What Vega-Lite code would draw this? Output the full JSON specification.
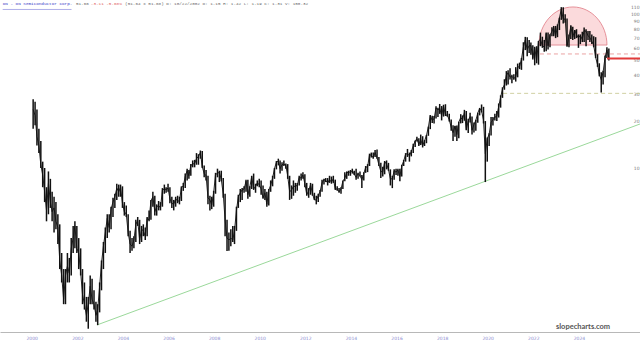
{
"$schema":"https://vega.github.io/schema/vega-lite/v6.json",
"width":640,"height":332,"autosize":"none","padding":{"left":0,"top":0,"right":0,"bottom":11},
"background":"white",
"config":{"view":{"stroke":null}},
"datasets":{"one":[{}],"px":[
{"d":"2000-05-15","l":18,"h":28,"c":24},{"d":"2000-06-15","l":19,"h":27,"c":22},{"d":"2000-07-15","l":14,"h":24,"c":16},{"d":"2000-08-15","l":12.5,"h":18,"c":14},{"d":"2000-09-15","l":10,"h":15,"c":10.5},{"d":"2000-10-15","l":7.5,"h":11,"c":9},{"d":"2000-11-15","l":6,"h":10,"c":7},{"d":"2000-12-15","l":4.5,"h":7.5,"c":5.3},
{"d":"2001-01-15","l":5,"h":9.5,"c":8},{"d":"2001-02-15","l":5.5,"h":8.5,"c":6},{"d":"2001-03-15","l":4.5,"h":7,"c":5.2},{"d":"2001-04-15","l":3.8,"h":6.5,"c":5.5},{"d":"2001-05-15","l":4,"h":6,"c":4.5},{"d":"2001-06-15","l":3.2,"h":5,"c":4.1},{"d":"2001-07-15","l":2.2,"h":4.3,"c":2.5},{"d":"2001-08-15","l":1.8,"h":2.8,"c":2},{"d":"2001-09-15","l":1.3,"h":2.2,"c":1.4},{"d":"2001-10-15","l":1.3,"h":2.2,"c":2},{"d":"2001-11-15","l":1.8,"h":2.8,"c":2.3},{"d":"2001-12-15","l":1.8,"h":2.6,"c":2.07},
{"d":"2002-01-15","l":2,"h":3.5,"c":3},{"d":"2002-02-15","l":2.8,"h":4.2,"c":3.5},{"d":"2002-03-15","l":3,"h":4.5,"c":4.2},{"d":"2002-04-15","l":2.8,"h":4.2,"c":3},{"d":"2002-05-15","l":2.2,"h":3.5,"c":2.8},{"d":"2002-06-15","l":2,"h":3,"c":2.1},{"d":"2002-07-15","l":1.3,"h":2.2,"c":1.5},{"d":"2002-08-15","l":1.2,"h":1.8,"c":1.3},{"d":"2002-09-15","l":1,"h":1.45,"c":1.1},{"d":"2002-10-15","l":0.9,"h":1.45,"c":1.3},{"d":"2002-11-15","l":1.3,"h":2,"c":1.7},{"d":"2002-12-15","l":1.3,"h":1.9,"c":1.4},
{"d":"2003-01-15","l":1.2,"h":1.6,"c":1.3},{"d":"2003-02-15","l":1,"h":1.35,"c":1.1},{"d":"2003-03-15","l":0.95,"h":1.3,"c":1.2},{"d":"2003-04-15","l":1.15,"h":1.8,"c":1.7},{"d":"2003-05-15","l":1.6,"h":2.5,"c":2.4},{"d":"2003-06-15","l":2.2,"h":3.3,"c":3.1},{"d":"2003-07-15","l":2.8,"h":4.1,"c":3.8},{"d":"2003-08-15","l":3.5,"h":5,"c":4.7},{"d":"2003-09-15","l":3.8,"h":5,"c":4.1},{"d":"2003-10-15","l":4,"h":5.6,"c":5.4},{"d":"2003-11-15","l":4.8,"h":6.4,"c":6},{"d":"2003-12-15","l":5.5,"h":6.8,"c":6.5},
{"d":"2004-01-15","l":6.2,"h":7.9,"c":7.4},{"d":"2004-02-15","l":6.5,"h":7.8,"c":7},{"d":"2004-03-15","l":6.5,"h":7.8,"c":7.5},{"d":"2004-04-15","l":5.5,"h":7.6,"c":5.9},{"d":"2004-05-15","l":4.9,"h":6,"c":5.2},{"d":"2004-06-15","l":4.8,"h":5.7,"c":5},{"d":"2004-07-15","l":3.6,"h":5,"c":3.8},{"d":"2004-08-15","l":2.8,"h":3.9,"c":3.2},{"d":"2004-09-15","l":2.9,"h":3.5,"c":3.1},{"d":"2004-10-15","l":3,"h":3.6,"c":3.4},{"d":"2004-11-15","l":3.3,"h":4.6,"c":4.3},{"d":"2004-12-15","l":4.2,"h":4.8,"c":4.55},
{"d":"2005-01-15","l":3.2,"h":4.6,"c":3.4},{"d":"2005-02-15","l":3.3,"h":4.2,"c":4},{"d":"2005-03-15","l":3.6,"h":4.3,"c":3.9},{"d":"2005-04-15","l":3.4,"h":4.1,"c":3.6},{"d":"2005-05-15","l":3.6,"h":4.8,"c":4.7},{"d":"2005-06-15","l":4.5,"h":5.3,"c":4.6},{"d":"2005-07-15","l":4.6,"h":6.2,"c":6.1},{"d":"2005-08-15","l":5.6,"h":7,"c":6.5},{"d":"2005-09-15","l":4.9,"h":6.6,"c":5.2},{"d":"2005-10-15","l":4.9,"h":5.8,"c":5.6},{"d":"2005-11-15","l":5.3,"h":6.1,"c":5.7},{"d":"2005-12-15","l":5.3,"h":6,"c":5.5},
{"d":"2006-01-15","l":5.6,"h":7.4,"c":7.2},{"d":"2006-02-15","l":6.8,"h":7.8,"c":7.3},{"d":"2006-03-15","l":6.9,"h":7.5,"c":7.25},{"d":"2006-04-15","l":7,"h":7.9,"c":7.4},{"d":"2006-05-15","l":5.9,"h":7.5,"c":6.3},{"d":"2006-06-15","l":5.5,"h":6.5,"c":5.9},{"d":"2006-07-15","l":5.3,"h":6.2,"c":5.8},{"d":"2006-08-15","l":5.6,"h":6.5,"c":6.3},{"d":"2006-09-15","l":5.9,"h":6.6,"c":6.1},{"d":"2006-10-15","l":5.8,"h":6.5,"c":6.1},{"d":"2006-11-15","l":6.1,"h":7.6,"c":7.5},{"d":"2006-12-15","l":7.1,"h":8,"c":7.6},
{"d":"2007-01-15","l":7.4,"h":9.2,"c":8.8},{"d":"2007-02-15","l":8.3,"h":9.9,"c":9.6},{"d":"2007-03-15","l":8.5,"h":9.7,"c":8.9},{"d":"2007-04-15","l":8.9,"h":10.6,"c":10.4},{"d":"2007-05-15","l":10.1,"h":11.2,"c":10.6},{"d":"2007-06-15","l":10.1,"h":11.3,"c":10.7},{"d":"2007-07-15","l":10.5,"h":12.5,"c":11.5},{"d":"2007-08-15","l":10.5,"h":12.3,"c":11.9},{"d":"2007-09-15","l":11.5,"h":13,"c":12.6},{"d":"2007-10-15","l":10,"h":12.9,"c":10.2},{"d":"2007-11-15","l":8.7,"h":10.4,"c":9.2},{"d":"2007-12-15","l":8.3,"h":9.7,"c":8.9},
{"d":"2008-01-15","l":5.8,"h":8.9,"c":6.4},{"d":"2008-02-15","l":5.3,"h":6.6,"c":6.2},{"d":"2008-03-15","l":5.4,"h":6.5,"c":5.75},{"d":"2008-04-15","l":5.6,"h":7.1,"c":6.9},{"d":"2008-05-15","l":6.8,"h":9.3,"c":9.1},{"d":"2008-06-15","l":8.7,"h":9.9,"c":9.2},{"d":"2008-07-15","l":8.1,"h":9.6,"c":9.4},{"d":"2008-08-15","l":8.2,"h":9.6,"c":8.4},{"d":"2008-09-15","l":6.4,"h":8.6,"c":6.8},{"d":"2008-10-15","l":3.6,"h":6.8,"c":4.6},{"d":"2008-11-15","l":2.88,"h":4.6,"c":3.5},{"d":"2008-12-15","l":2.9,"h":3.8,"c":3.4},
{"d":"2009-01-15","l":3.1,"h":4,"c":3.5},{"d":"2009-02-15","l":3.3,"h":4.2,"c":3.4},{"d":"2009-03-15","l":3.2,"h":4.2,"c":3.9},{"d":"2009-04-15","l":3.9,"h":5.6,"c":5.3},{"d":"2009-05-15","l":5.5,"h":6.7,"c":6.5},{"d":"2009-06-15","l":6,"h":7.3,"c":6.9},{"d":"2009-07-15","l":6.2,"h":7.4,"c":7.2},{"d":"2009-08-15","l":6.9,"h":7.6,"c":7.3},{"d":"2009-09-15","l":7,"h":8.4,"c":8.2},{"d":"2009-10-15","l":6.3,"h":8.4,"c":6.7},{"d":"2009-11-15","l":6.5,"h":7.6,"c":7.5},{"d":"2009-12-15","l":7.3,"h":8.9,"c":8.8},
{"d":"2010-01-15","l":7.2,"h":9.2,"c":7.3},{"d":"2010-02-15","l":6.9,"h":7.9,"c":7.6},{"d":"2010-03-15","l":7.6,"h":8.3,"c":8},{"d":"2010-04-15","l":7.5,"h":8.5,"c":7.8},{"d":"2010-05-15","l":6.7,"h":8.3,"c":7.3},{"d":"2010-06-15","l":6.3,"h":7.7,"c":6.4},{"d":"2010-07-15","l":6.2,"h":7.3,"c":6.9},{"d":"2010-08-15","l":5.6,"h":7,"c":5.8},{"d":"2010-09-15","l":5.7,"h":7.3,"c":7.2},{"d":"2010-10-15","l":7,"h":8.3,"c":7.7},{"d":"2010-11-15","l":7.6,"h":8.9,"c":8.6},{"d":"2010-12-15","l":8.5,"h":10,"c":9.9},
{"d":"2011-01-15","l":9.8,"h":11.1,"c":10.9},{"d":"2011-02-15","l":10.4,"h":11.5,"c":11.1},{"d":"2011-03-15","l":9.2,"h":11.2,"c":9.9},{"d":"2011-04-15","l":9.6,"h":10.9,"c":10.5},{"d":"2011-05-15","l":10.3,"h":11.2,"c":10.6},{"d":"2011-06-15","l":9.9,"h":10.7,"c":10.4},{"d":"2011-07-15","l":8.5,"h":10.6,"c":8.9},{"d":"2011-08-15","l":6.2,"h":8.9,"c":7},{"d":"2011-09-15","l":6.3,"h":7.7,"c":7.2},{"d":"2011-10-15","l":6.6,"h":8.3,"c":7.6},{"d":"2011-11-15","l":6.9,"h":8,"c":7.6},{"d":"2011-12-15","l":7.1,"h":8,"c":7.7},
{"d":"2012-01-15","l":7.7,"h":8.9,"c":8.7},{"d":"2012-02-15","l":8.3,"h":9.2,"c":8.6},{"d":"2012-03-15","l":8.5,"h":9.4,"c":9},{"d":"2012-04-15","l":7.5,"h":9.1,"c":7.9},{"d":"2012-05-15","l":6.6,"h":8,"c":6.7},{"d":"2012-06-15","l":6.4,"h":7.4,"c":7.1},{"d":"2012-07-15","l":6.7,"h":8,"c":7.8},{"d":"2012-08-15","l":6.6,"h":7.9,"c":6.8},{"d":"2012-09-15","l":6.2,"h":6.9,"c":6.2},{"d":"2012-10-15","l":5.8,"h":6.6,"c":6.2},{"d":"2012-11-15","l":6,"h":6.8,"c":6.6},{"d":"2012-12-15","l":6.5,"h":7.2,"c":7.05},
{"d":"2013-01-15","l":7,"h":8.4,"c":8},{"d":"2013-02-15","l":7.8,"h":8.5,"c":8.4},{"d":"2013-03-15","l":8.1,"h":8.6,"c":8.3},{"d":"2013-04-15","l":7.7,"h":8.6,"c":8},{"d":"2013-05-15","l":8,"h":8.9,"c":8.4},{"d":"2013-06-15","l":7.9,"h":8.8,"c":8.1},{"d":"2013-07-15","l":8,"h":8.9,"c":8.5},{"d":"2013-08-15","l":7.2,"h":8.4,"c":7.3},{"d":"2013-09-15","l":7.1,"h":7.6,"c":7.3},{"d":"2013-10-15","l":6.9,"h":7.4,"c":7},{"d":"2013-11-15","l":6.8,"h":7.5,"c":7.3},{"d":"2013-12-15","l":7.3,"h":8.3,"c":8.2},
{"d":"2014-01-15","l":8.2,"h":9.4,"c":8.6},{"d":"2014-02-15","l":8.5,"h":9.5,"c":9.3},{"d":"2014-03-15","l":8.9,"h":9.6,"c":9.4},{"d":"2014-04-15","l":8.9,"h":9.7,"c":9.4},{"d":"2014-05-15","l":9.2,"h":9.9,"c":9.6},{"d":"2014-06-15","l":9,"h":9.6,"c":9.1},{"d":"2014-07-15","l":8.4,"h":9.9,"c":8.7},{"d":"2014-08-15","l":8.5,"h":9.3,"c":9.2},{"d":"2014-09-15","l":8.8,"h":9.5,"c":8.9},{"d":"2014-10-15","l":7.4,"h":9,"c":8.4},{"d":"2014-11-15","l":8.3,"h":9.4,"c":9.2},{"d":"2014-12-15","l":9.3,"h":10.3,"c":10.1},
{"d":"2015-01-15","l":9.4,"h":10.6,"c":10.2},{"d":"2015-02-15","l":10.3,"h":12.4,"c":12.2},{"d":"2015-03-15","l":11.7,"h":12.6,"c":12.1},{"d":"2015-04-15","l":11.5,"h":12.6,"c":11.7},{"d":"2015-05-15","l":11.8,"h":13.1,"c":12.6},{"d":"2015-06-15","l":11.5,"h":13.2,"c":11.7},{"d":"2015-07-15","l":10.3,"h":11.8,"c":10.5},{"d":"2015-08-15","l":8.6,"h":10.8,"c":9.5},{"d":"2015-09-15","l":8.8,"h":10.2,"c":9.4},{"d":"2015-10-15","l":9.1,"h":11.1,"c":11},{"d":"2015-11-15","l":9.8,"h":11.2,"c":10.6},{"d":"2015-12-15","l":9.6,"h":10.8,"c":9.8},
{"d":"2016-01-15","l":7.7,"h":9.8,"c":8.5},{"d":"2016-02-15","l":7.4,"h":8.9,"c":8.5},{"d":"2016-03-15","l":8.4,"h":9.8,"c":9.6},{"d":"2016-04-15","l":9,"h":9.9,"c":9.4},{"d":"2016-05-15","l":8.9,"h":9.9,"c":9.7},{"d":"2016-06-15","l":8.2,"h":9.9,"c":8.8},{"d":"2016-07-15","l":8.8,"h":10.5,"c":10.3},{"d":"2016-08-15","l":10.3,"h":11.3,"c":11.1},{"d":"2016-09-15","l":11,"h":12.5,"c":12.3},{"d":"2016-10-15","l":11.8,"h":13.3,"c":12.4},{"d":"2016-11-15","l":11,"h":12.6,"c":12},{"d":"2016-12-15","l":11.9,"h":13.1,"c":12.8},
{"d":"2017-01-15","l":12.5,"h":14.4,"c":13.9},{"d":"2017-02-15","l":13.7,"h":15.1,"c":15},{"d":"2017-03-15","l":14.9,"h":16,"c":15.5},{"d":"2017-04-15","l":13.9,"h":15.6,"c":14.2},{"d":"2017-05-15","l":14.1,"h":16.5,"c":15.3},{"d":"2017-06-15","l":13.6,"h":16.1,"c":14},{"d":"2017-07-15","l":13.9,"h":15.2,"c":15},{"d":"2017-08-15","l":14.5,"h":16.4,"c":16.3},{"d":"2017-09-15","l":16.2,"h":18.6,"c":18.5},{"d":"2017-10-15","l":17.9,"h":22.1,"c":21.9},{"d":"2017-11-15","l":19.6,"h":21.9,"c":20.4},{"d":"2017-12-15","l":19.5,"h":21.8,"c":20.9},
{"d":"2018-01-15","l":21,"h":25.2,"c":24.6},{"d":"2018-02-15","l":21.5,"h":24.7,"c":23.9},{"d":"2018-03-15","l":22.5,"h":26.1,"c":24.5},{"d":"2018-04-15","l":20.4,"h":25.3,"c":21.9},{"d":"2018-05-15","l":21.6,"h":25.8,"c":25.3},{"d":"2018-06-15","l":21.8,"h":26,"c":22.2},{"d":"2018-07-15","l":21.6,"h":23.5,"c":22},{"d":"2018-08-15","l":20.1,"h":22.5,"c":20.6},{"d":"2018-09-15","l":17.5,"h":20.7,"c":18.4},{"d":"2018-10-15","l":15,"h":19,"c":17},{"d":"2018-11-15","l":16,"h":18.8,"c":18.7},{"d":"2018-12-15","l":15,"h":18.9,"c":16.5},
{"d":"2019-01-15","l":15.6,"h":20,"c":19.9},{"d":"2019-02-15","l":19.5,"h":22.4,"c":21.3},{"d":"2019-03-15","l":19.6,"h":22,"c":20.6},{"d":"2019-04-15","l":20.3,"h":23.9,"c":23},{"d":"2019-05-15","l":17.6,"h":23.5,"c":17.8},{"d":"2019-06-15","l":16.9,"h":20.9,"c":20.2},{"d":"2019-07-15","l":19.8,"h":22.9,"c":21.6},{"d":"2019-08-15","l":16.5,"h":21.6,"c":17.6},{"d":"2019-09-15","l":17,"h":19.8,"c":19.2},{"d":"2019-10-15","l":17.5,"h":20.6,"c":20.4},{"d":"2019-11-15","l":19.7,"h":22.9,"c":22.8},{"d":"2019-12-15","l":22,"h":24.6,"c":24.4},
{"d":"2020-01-15","l":23,"h":25.9,"c":23.5},{"d":"2020-02-15","l":19.5,"h":25,"c":20.5},{"d":"2020-03-15","l":8.1,"h":20.2,"c":12.4},{"d":"2020-04-15","l":11,"h":15.8,"c":15.5},{"d":"2020-05-15","l":13.9,"h":16.8,"c":16.6},{"d":"2020-06-15","l":16.3,"h":21.5,"c":19.8},{"d":"2020-07-15","l":18.9,"h":21.5,"c":20.6},{"d":"2020-08-15","l":20.4,"h":22.5,"c":21.4},{"d":"2020-09-15","l":20.2,"h":23.5,"c":21.7},{"d":"2020-10-15","l":21.3,"h":26.3,"c":25.1},{"d":"2020-11-15","l":24.7,"h":29.7,"c":28.9},{"d":"2020-12-15","l":28.6,"h":33.5,"c":32.7},
{"d":"2021-01-15","l":32.3,"h":37.8,"c":34.8},{"d":"2021-02-15","l":34.4,"h":42.7,"c":40.1},{"d":"2021-03-15","l":35,"h":43.2,"c":41.6},{"d":"2021-04-15","l":37.6,"h":44.6,"c":39},{"d":"2021-05-15","l":35.6,"h":40.5,"c":39.4},{"d":"2021-06-15","l":37.5,"h":40.8,"c":38.3},{"d":"2021-07-15","l":36.5,"h":45.3,"c":39.1},{"d":"2021-08-15","l":38.9,"h":47.8,"c":45.2},{"d":"2021-09-15","l":44,"h":48.5,"c":45.8},{"d":"2021-10-15","l":43.5,"h":52,"c":51},{"d":"2021-11-15","l":50,"h":65.8,"c":61.4},{"d":"2021-12-15","l":58.5,"h":71.3,"c":67.9},
{"d":"2022-01-15","l":53.3,"h":70.8,"c":59},{"d":"2022-02-15","l":56,"h":68,"c":62.5},{"d":"2022-03-15","l":54.5,"h":65.5,"c":62.6},{"d":"2022-04-15","l":50.8,"h":63,"c":52.1},{"d":"2022-05-15","l":46.6,"h":61.5,"c":60.5},{"d":"2022-06-15","l":48,"h":62,"c":50.3},{"d":"2022-07-15","l":47,"h":67,"c":66.8},{"d":"2022-08-15","l":62,"h":76,"c":68.9},{"d":"2022-09-15","l":60.5,"h":71.5,"c":62.3},{"d":"2022-10-15","l":57,"h":68,"c":61.4},{"d":"2022-11-15","l":57.5,"h":76,"c":75},{"d":"2022-12-15","l":59,"h":76,"c":62.4},
{"d":"2023-01-15","l":61,"h":74.3,"c":73.4},{"d":"2023-02-15","l":72,"h":82.5,"c":77.3},{"d":"2023-03-15","l":72,"h":84,"c":82.3},{"d":"2023-04-15","l":70,"h":84,"c":72},{"d":"2023-05-15","l":71,"h":86,"c":83.6},{"d":"2023-06-15","l":79,"h":95,"c":94.6},{"d":"2023-07-15","l":92,"h":111.3,"c":107.7},{"d":"2023-08-15","l":87,"h":111,"c":93.2},{"d":"2023-09-15","l":88,"h":100,"c":93},{"d":"2023-10-15","l":61.5,"h":94,"c":62.6},{"d":"2023-11-15","l":61,"h":74,"c":71.4},{"d":"2023-12-15","l":69,"h":85,"c":83.5},
{"d":"2024-01-15","l":68,"h":83,"c":71},{"d":"2024-02-15","l":69,"h":79,"c":79},{"d":"2024-03-15","l":70,"h":80,"c":73.6},{"d":"2024-04-15","l":60.5,"h":74,"c":70.2},{"d":"2024-05-15","l":64,"h":74,"c":73},{"d":"2024-06-15","l":66,"h":77,"c":68.6},{"d":"2024-07-15","l":66,"h":82,"c":78.4},{"d":"2024-08-15","l":62,"h":80,"c":77.5},{"d":"2024-09-15","l":68,"h":78,"c":72.6},{"d":"2024-10-15","l":66,"h":78,"c":70.5},{"d":"2024-11-15","l":64,"h":74,"c":66.6},{"d":"2024-12-15","l":61,"h":72,"c":63.1},
{"d":"2025-01-15","l":52,"h":71,"c":52.5},{"d":"2025-02-15","l":45.5,"h":55,"c":47},{"d":"2025-03-15","l":39.5,"h":48,"c":40.7},{"d":"2025-04-15","l":31,"h":42,"c":37.6},{"d":"2025-05-15","l":35,"h":43,"c":42},{"d":"2025-06-15","l":39,"h":54,"c":52.4},{"d":"2025-07-15","l":52,"h":61,"c":58.8},{"d":"2025-08-15","l":50,"h":60,"c":51.66}
]},
"layer":[
{"data":{"name":"one"},"mark":{"type":"point","shape":"M-1,0 A1,1.12 0 0 1 1,0 Z","filled":true,"fill":"#fad3d6","fillOpacity":0.85,"stroke":"#e07a84","strokeWidth":0.8,"size":4624},
 "encoding":{"x":{"datum":{"year":2024,"month":1,"date":18},"type":"temporal"},"y":{"datum":63.1,"type":"quantitative"}}},
{"data":{"name":"one"},"mark":{"type":"rule","stroke":"#e58b8b","strokeWidth":0.8,"strokeDash":[4,3]},
 "encoding":{"x":{"datum":{"year":2022,"month":8,"date":7},"type":"temporal"},"x2":{"datum":{"year":2026,"month":12,"date":27}},"y":{"datum":55.2,"type":"quantitative"}}},
{"data":{"name":"one"},"mark":{"type":"rule","stroke":"#c4c48a","strokeWidth":0.8,"strokeDash":[4,3]},
 "encoding":{"x":{"datum":{"year":2020,"month":12,"date":25},"type":"temporal"},"x2":{"datum":{"year":2026,"month":12,"date":27}},"y":{"datum":30.6,"type":"quantitative"}}},
{"data":{"name":"one"},"mark":{"type":"rule","stroke":"#8fd48f","strokeWidth":0.9},
 "encoding":{"x":{"datum":{"year":2003,"month":3,"date":3},"type":"temporal"},"x2":{"datum":{"year":2026,"month":12,"date":27}},"y":{"datum":0.952,"type":"quantitative"},"y2":{"datum":19.33}}},
{"data":{"name":"px"},"mark":{"type":"rule","stroke":"#111","strokeWidth":1.5},
 "encoding":{
  "x":{"field":"d","type":"temporal","scale":{"domain":[{"year":1998,"month":12,"date":1},{"year":2026,"month":12,"date":27}]},
   "axis":{"title":null,"orient":"bottom","values":[{"year":2000,"month":1,"date":1},{"year":2002,"month":1,"date":1},{"year":2004,"month":1,"date":1},{"year":2006,"month":1,"date":1},{"year":2008,"month":1,"date":1},{"year":2010,"month":1,"date":1},{"year":2012,"month":1,"date":1},{"year":2014,"month":1,"date":1},{"year":2016,"month":1,"date":1},{"year":2018,"month":1,"date":1},{"year":2020,"month":1,"date":1},{"year":2022,"month":1,"date":1},{"year":2024,"month":1,"date":1}],
    "format":"%Y","labelFontSize":4.5,"labelColor":"#8c8cd0","labelFont":"DejaVu Sans","domainColor":"#b8b8b8","domainWidth":1,"ticks":false,"tickSize":0,"grid":false,"labelPadding":3,"labelOffset":7,"labelFlush":false}},
  "y":{"field":"l","type":"quantitative","scale":{"type":"log","domain":[0.857,123.9],"nice":false,"zero":false},
   "axis":{"title":null,"orient":"right","values":[10,20,30,40,50,60,70,80,90,100,110],"format":"d","labelFontSize":4.5,"labelColor":"#777","labelFont":"DejaVu Sans","domain":false,"ticks":false,"tickSize":0,"grid":false,"labelAlign":"right","labelPadding":-1}},
  "y2":{"field":"h"}}},
{"data":{"name":"px"},"mark":{"type":"line","stroke":"#111","strokeWidth":0.9},
 "encoding":{"x":{"field":"d","type":"temporal"},"y":{"field":"c","type":"quantitative"}}},
{"data":{"name":"one"},"mark":{"type":"rule","stroke":"#e23b3b","strokeWidth":2},
 "encoding":{"x":{"datum":{"year":2025,"month":7,"date":16},"type":"temporal"},"x2":{"datum":{"year":2026,"month":12,"date":27}},"y":{"datum":51.66,"type":"quantitative"}}},
{"data":{"name":"one"},"mark":{"type":"text","text":"ON - ON Semiconductor Corp.","font":"Liberation Mono","fontSize":4.3,"fill":"#3838c8","align":"left","baseline":"middle"},
 "encoding":{"x":{"datum":{"year":1999,"month":1,"date":13},"type":"temporal"},"y":{"datum":116.7,"type":"quantitative"}}},
{"data":{"name":"one"},"mark":{"type":"rule","stroke":"#3838c8","strokeWidth":0.4},
 "encoding":{"x":{"datum":{"year":1999,"month":1,"date":13},"type":"temporal"},"x2":{"datum":{"year":2002,"month":1,"date":20}},"y":{"datum":107.5,"type":"quantitative"}}},
{"data":{"name":"one"},"mark":{"type":"text","text":"51.66","font":"Liberation Mono","fontSize":4.3,"fill":"#666","align":"left","baseline":"middle"},
 "encoding":{"x":{"datum":{"year":2002,"month":4,"date":1},"type":"temporal"},"y":{"datum":116.7,"type":"quantitative"}}},
{"data":{"name":"one"},"mark":{"type":"text","text":"-3.11 -5.68%","font":"Liberation Mono","fontSize":4.3,"fill":"#e06060","align":"left","baseline":"middle"},
 "encoding":{"x":{"datum":{"year":2002,"month":11,"date":25},"type":"temporal"},"y":{"datum":116.7,"type":"quantitative"}}},
{"data":{"name":"one"},"mark":{"type":"text","text":"(51.64 x 51.68) D: 10/22/2002 O: 1.15 H: 1.42 L: 1.19 C: 1.31 V: 150.32","font":"Liberation Mono","fontSize":4.3,"fill":"#666","align":"left","baseline":"middle"},
 "encoding":{"x":{"datum":{"year":2004,"month":5,"date":27},"type":"temporal"},"y":{"datum":116.7,"type":"quantitative"}}},
{"data":{"name":"one"},"mark":{"type":"text","text":"slopecharts.com","font":"Lato","fontSize":7.5,"fontWeight":"bold","fill":"#555","align":"center","baseline":"middle"},
 "encoding":{"x":{"datum":{"year":2024,"month":6,"date":27},"type":"temporal"},"y":{"datum":0.924,"type":"quantitative"}}}
]
}
